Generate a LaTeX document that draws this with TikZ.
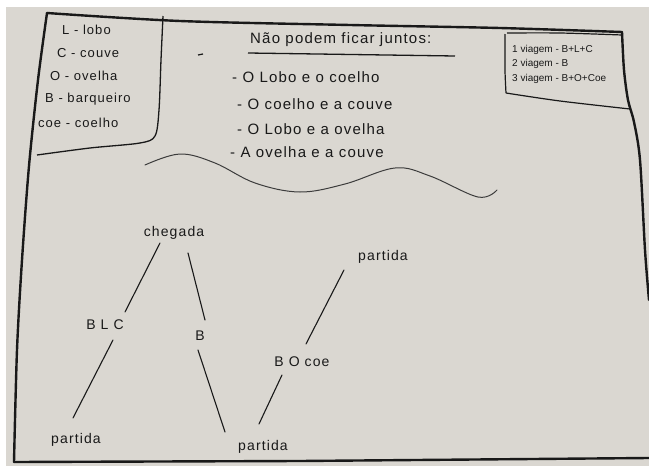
\documentclass[tikz,border=0pt]{standalone}
\usepackage{fontspec}
\setmainfont{Liberation Sans}
\newfontfamily\hand[LetterSpace=8]{Liberation Sans}
\definecolor{paper}{RGB}{218,215,209}
\definecolor{ink}{RGB}{25,25,25}
\begin{document}
\begin{tikzpicture}[x=1pt,y=-1pt,
  frame/.style={draw=ink,line width=2.4pt,line join=round,line cap=round},
  thin/.style={draw=ink,line width=1.1pt,line cap=round},
  wave/.style={draw=ink!85,line width=1pt,line cap=round},
  leg/.style={anchor=west,inner sep=0pt,font=\hand\fontsize{13}{13}\selectfont,text=ink},
  item/.style={anchor=west,inner sep=0pt,font=\hand\fontsize{15}{15}\selectfont,text=ink},
  trip/.style={anchor=west,inner sep=0pt,font=\fontsize{10}{10}\selectfont,text=ink},
  lab/.style={inner sep=0pt,font=\hand\fontsize{14}{14}\selectfont,text=ink}]
\fill[white] (0,0) rectangle (649,466);
\fill[paper] (6,7) rectangle (649,466);
\useasboundingbox (0,0) rectangle (649,466);
% outer frame
\draw[frame] plot[smooth] coordinates {(14,462) (17,350) (22,260) (29,166) (38,80) (47,13)};
\draw[frame] plot[smooth] coordinates {(47,13) (180,21) (350,25) (500,28) (622,32)};
\draw[frame] plot[smooth] coordinates {(622,32) (624,70) (628,100) (634,122) (640,160) (645,250) (649,300)};
\draw[frame] (14,462) -- (300,461) -- (649,458);
% legend box
\draw[draw=ink,line width=1.3pt] plot[smooth] coordinates {(163,16) (161,60) (159,110) (155,136) (140,143) (90,148) (37,155)};
% trips box
\draw[draw=ink,line width=1.2pt] plot[smooth] coordinates {(507,33) (560,33) (622,35)};
\draw[draw=ink,line width=1.2pt] plot[smooth] coordinates {(505,34) (505,70) (506,93)};
\draw[draw=ink,line width=1.2pt] plot[smooth] coordinates {(506,93) (560,101) (630,109)};
% legend text
\node[leg] (l1) at (62,30) {L - lobo};
\node[leg] (l2) at (57,53) {C - couve};
\node[leg] (l3) at (50,76) {O - ovelha};
\node[leg] (l4) at (45,99) {B - barqueiro};
\node[leg] (l5) at (38,123) {coe - coelho};
% rules
\node[item] (hd) at (250,40) {Não podem ficar juntos:};
\draw[draw=ink,line width=1.3pt] (248,53) -- (455,56);
\draw[draw=ink,line width=1.2pt] (198,55) -- (203,54);
\node[item] (r1) at (232,77) {- O Lobo e o coelho};
\node[item] (r2) at (237,104) {- O coelho e a couve};
\node[item] (r3) at (237,129) {- O Lobo e a ovelha};
\node[item] (r4) at (230,152) {- A ovelha e a couve};
% wave
\draw[wave] plot[smooth,tension=0.6] coordinates {(145,165) (180,154) (215,163) (255,183) (300,192) (345,184) (395,168) (430,176) (478,197) (497,190)};
% trips text
\node[trip] (t1) at (512,50) {1 viagem - B+L+C};
\node[trip] (t2) at (512,64) {2 viagem - B};
\node[trip] (t3) at (512,79) {3 viagem - B+O+Coe};
% tree
\node[lab] (ch) at (174,233) {chegada};
\node[lab] (blc) at (105,325) {B L C};
\node[lab] (b) at (200,336) {B};
\node[lab] (p1) at (76,440) {partida};
\node[lab] (p2) at (263,447) {partida};
\node[lab] (boc) at (302,362) {B O coe};
\node[lab] (p3) at (383,257) {partida};
\draw[thin] ([shift={(-14,10)}]ch.center) -- ([shift={(20,-13)}]blc.center);
\draw[thin] ([shift={(14,20)}]ch.center) -- ([shift={(5,-16)}]b.center);
\draw[thin] ([shift={(8,15)}]blc.center) -- ([shift={(-3,-22)}]p1.center);
\draw[thin] ([shift={(-2,14)}]b.center) -- ([shift={(-38,-15)}]p2.center);
\draw[thin] ([shift={(-4,-23)}]p2.center) -- ([shift={(-20,13)}]boc.center);
\draw[thin] ([shift={(4,-18)}]boc.center) -- ([shift={(-39,13)}]p3.center);
\end{tikzpicture}
\end{document}
